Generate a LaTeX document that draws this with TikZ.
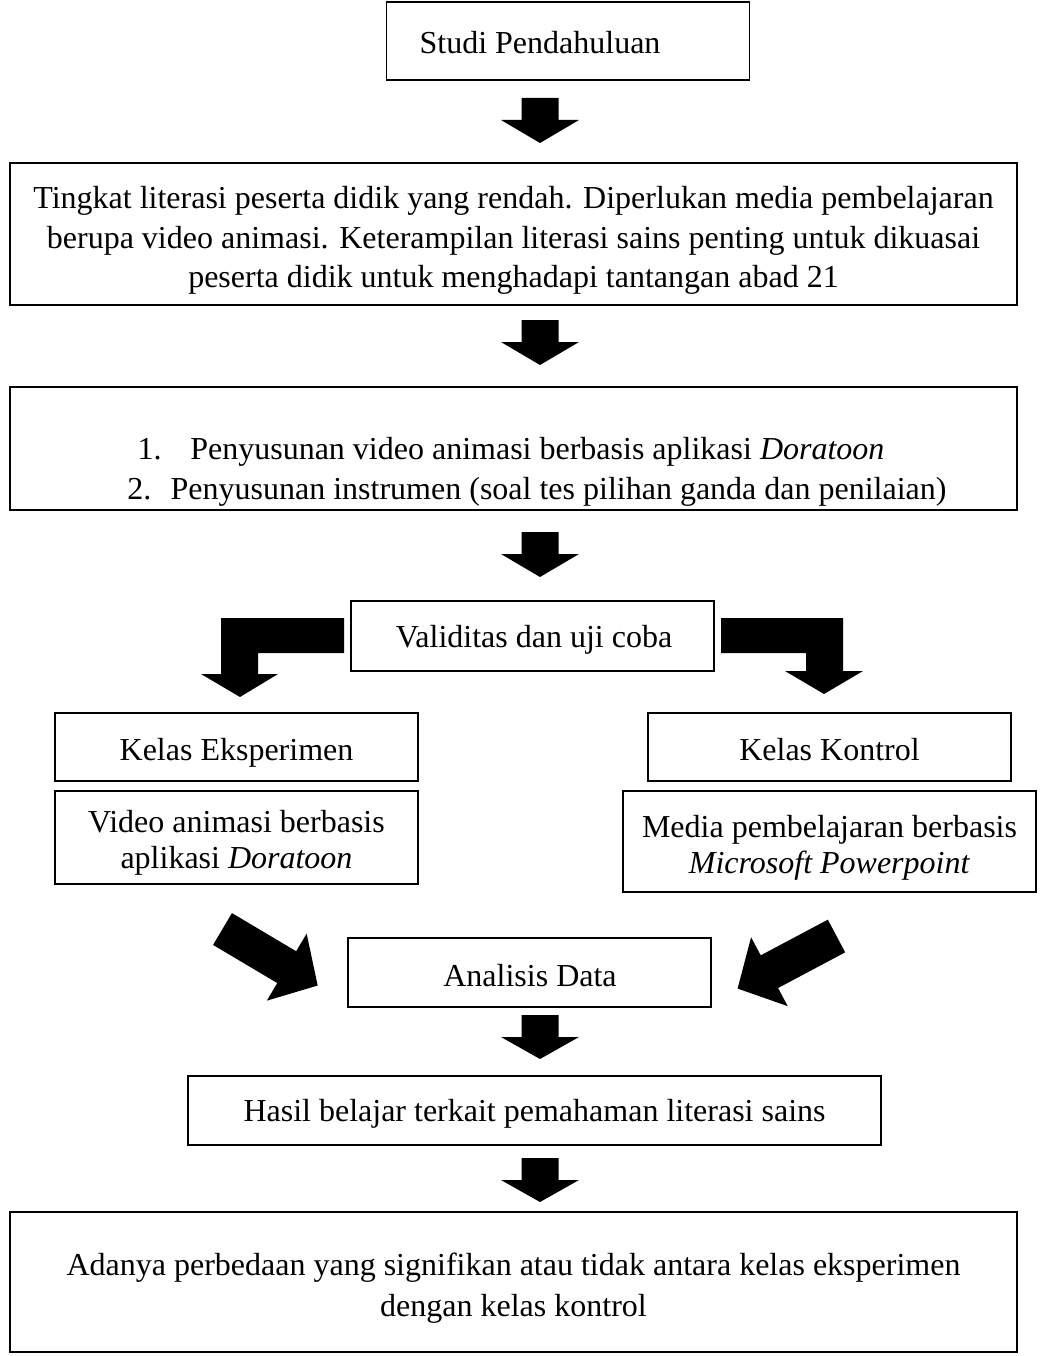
\documentclass[tikz,border=0pt]{standalone}
\usepackage{fontspec}
\setmainfont{Liberation Serif}
\begin{document}
\begin{tikzpicture}[x=1pt,y=-1pt,
  box/.style={draw, line width=1.2pt, inner sep=0pt},
  txt/.style={inner sep=0pt, align=center, font=\fontsize{32}{40}\selectfont},
  one/.style={txt, text height=22pt, text depth=7pt}]
\newcommand{\blockarrow}[7]{%
  \begin{scope}[shift={(#1,#2)}, rotate=#3]
    \fill (0,-#5) -- (#4-#7,-#5) -- (#4-#7,-#6) -- (#4,0) -- (#4-#7,#6) -- (#4-#7,#5) -- (0,#5) -- cycle;
  \end{scope}}
\useasboundingbox (0,0) rectangle (1047,1356);
\fill[white] (0,0) rectangle (1047,1356);

% boxes
\node[box, minimum width=363, minimum height=78] (b1) at (568,41) {};
\node[box, minimum width=1007, minimum height=142] (b2) at (513.5,234) {};
\node[box, minimum width=1007, minimum height=123] (b3) at (513.5,448.5) {};
\node[box, minimum width=363, minimum height=70] (val) at (532.5,636) {};
\node[box, minimum width=363, minimum height=68] (eks) at (236.5,747) {};
\node[box, minimum width=363, minimum height=93] (vid) at (236.5,837.5) {};
\node[box, minimum width=363, minimum height=68] (kon) at (829.5,747) {};
\node[box, minimum width=413, minimum height=101] (med) at (829.5,841.5) {};
\node[box, minimum width=363, minimum height=69] (ana) at (529.5,972.5) {};
\node[box, minimum width=693, minimum height=69] (has) at (534.5,1110.5) {};
\node[box, minimum width=1007, minimum height=140] (fin) at (513.5,1282) {};

% texts
\node[one] (b1t) at (540,46) {Studi Pendahuluan};
\node[txt, font=\fontsize{32}{39.5}\selectfont] (b2t) at (513.5,240.5) {Tingkat literasi peserta didik yang rendah. Diperlukan media pembelajaran\\ berupa video animasi. Keterampilan literasi sains penting untuk dikuasai\\ peserta didik untuk menghadapi tantangan abad 21};
\node[txt, anchor=base] (b3a) at (511,459) {1.\hspace{0.9em}Penyusunan video animasi berbasis aplikasi \textit{Doratoon}};
\node[txt, anchor=base] (b3b) at (537,499) {2.\hspace{0.6em}Penyusunan instrumen (soal tes pilihan ganda dan penilaian)};
\node[one] (valt) at (534,640) {Validitas dan uji coba};
\node[one] (ekst) at (236.5,753) {Kelas Eksperimen};
\node[one] (kont) at (829.5,753) {Kelas Kontrol};
\node[txt, font=\fontsize{32}{36}\selectfont] (vidt) at (236.5,843) {Video animasi berbasis\\ aplikasi \textit{Doratoon}};
\node[txt, font=\fontsize{32}{36}\selectfont] (medt) at (829.5,847.5) {Media pembelajaran berbasis\\ \textit{Microsoft Powerpoint}};
\node[one] (anat) at (530,979) {Analisis Data};
\node[one] (hast) at (534.5,1114) {Hasil belajar terkait pemahaman literasi sains};
\node[txt, font=\fontsize{32}{41}\selectfont] (fint) at (513.5,1288) {Adanya perbedaan yang signifikan atau tidak antara kelas eksperimen\\ dengan kelas kontrol};

% down block arrows
\blockarrow{540}{98}{-90}{45}{18.5}{39}{23}
\blockarrow{540}{320}{-90}{45}{18.5}{39}{23}
\blockarrow{540}{532}{-90}{45}{18.5}{39}{23}
\blockarrow{540}{1015}{-90}{44}{18.5}{39}{22}
\blockarrow{540}{1158}{-90}{44}{18.5}{39}{22}

% bent arrows from Validitas
\fill (344,618) -- (221,618) -- (221,674) -- (201,674) -- (240,697) -- (278,674) -- (258,674) -- (258,653) -- (344,653) -- cycle;
\fill (721,618) -- (843,618) -- (843,671) -- (863,671) -- (824,694) -- (785,671) -- (806,671) -- (806,653) -- (721,653) -- cycle;

% diagonal arrows into Analisis Data
\blockarrow{222.5}{929}{-30.7}{110.7}{18.5}{39}{36}
\blockarrow{836.5}{936}{208}{112}{18.5}{39}{36}
\end{tikzpicture}
\end{document}
